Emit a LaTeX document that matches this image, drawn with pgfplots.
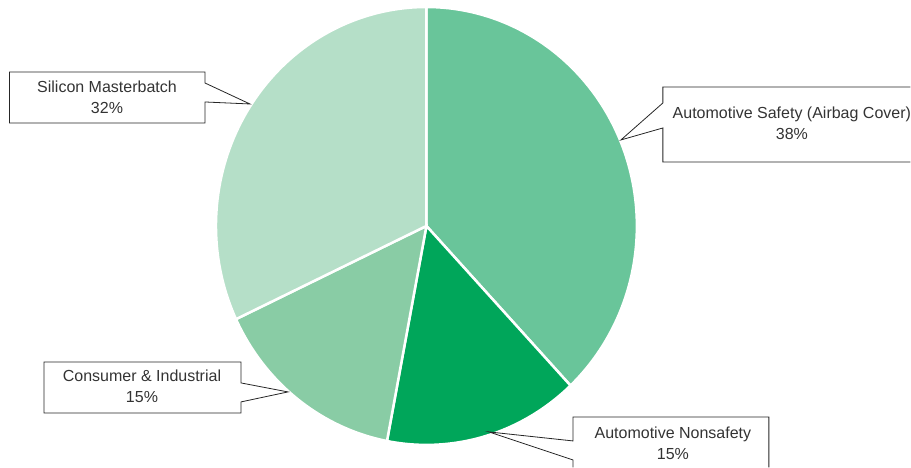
\documentclass[border=0pt]{standalone}
\usepackage{pgfplots}
\pgfplotsset{compat=1.18}
\usepackage{fontspec}
\setmainfont{Liberation Sans}
\definecolor{cSafety}{HTML}{69C59A}
\definecolor{cNon}{HTML}{00A65A}
\definecolor{cCons}{HTML}{89CCA5}
\definecolor{cSil}{HTML}{B5DFC8}
\definecolor{txt}{HTML}{333333}
\begin{document}
\begin{tikzpicture}
% shares (percent), clockwise from 12 o'clock
\def\vA{38}\def\vB{15}\def\vC{15}\def\vD{32}
\pgfmathsetmacro\aA{90}
\pgfmathsetmacro\aB{90-3.6*\vA}
\pgfmathsetmacro\aC{\aB-3.6*\vB}
\pgfmathsetmacro\aD{\aC-3.6*\vC}
\pgfmathsetmacro\aE{\aD-3.6*\vD}
\def\cx{426.5}\def\cy{242}\def\rx{210.5}\def\ry{219}
\begin{axis}[
  scale only axis, width=911pt, height=468pt,
  xmin=0, xmax=911, ymin=0, ymax=468,
  hide axis, clip=false,
]
\path (rel axis cs:0,0) rectangle (rel axis cs:1,1);
\addplot[fill=cSafety, draw=white, line width=2.5pt, domain=\aB:\aA, samples=90, variable=\t]
  ({\cx+\rx*cos(\t)},{\cy+\ry*sin(\t)}) -- (axis cs:\cx,\cy) -- cycle;
\addplot[fill=cNon, draw=white, line width=2.5pt, domain=\aC:\aB, samples=60, variable=\t]
  ({\cx+\rx*cos(\t)},{\cy+\ry*sin(\t)}) -- (axis cs:\cx,\cy) -- cycle;
\addplot[fill=cCons, draw=white, line width=2.5pt, domain=\aD:\aC, samples=60, variable=\t]
  ({\cx+\rx*cos(\t)},{\cy+\ry*sin(\t)}) -- (axis cs:\cx,\cy) -- cycle;
\addplot[fill=cSil, draw=white, line width=2.5pt, domain=\aE:\aD, samples=90, variable=\t]
  ({\cx+\rx*cos(\t)},{\cy+\ry*sin(\t)}) -- (axis cs:\cx,\cy) -- cycle;

% callout boxes (pixel coordinates, y flipped: 468 - y)
\begin{scope}[draw=black!85, line width=0.8pt]
% Silicon Masterbatch
\draw (axis cs:205,385) -- (axis cs:205,396) -- (axis cs:9.5,396) -- (axis cs:9.5,345) -- (axis cs:205,345) -- (axis cs:205,366) -- (axis cs:250,364) -- cycle;
% Automotive Safety
\draw (axis cs:910.5,381) -- (axis cs:663,381) -- (axis cs:663,365) -- (axis cs:621,328) -- (axis cs:663,340) -- (axis cs:663,306) -- (axis cs:910.5,306);
% Consumer & Industrial
\draw (axis cs:241,106) -- (axis cs:44,106) -- (axis cs:44,55) -- (axis cs:241,55) -- (axis cs:241,66) -- (axis cs:288,76) -- (axis cs:241,85) -- cycle;
% Automotive Nonsafety
\draw (axis cs:573,0.5) -- (axis cs:573,8) -- (axis cs:489,36) -- (axis cs:573,27) -- (axis cs:573,51) -- (axis cs:769,51) -- (axis cs:769,0.5);
\end{scope}
\begin{scope}[every node/.style={text=txt, font=\fontsize{16}{21}\selectfont, align=center, inner sep=0pt}]
\node at (axis cs:107,370.5) {Silicon Masterbatch\\32\%};
\node at (axis cs:792,344.5) {Automotive Safety (Airbag Cover)\\38\%};
\node at (axis cs:142,81.5) {Consumer \& Industrial\\15\%};
\node at (axis cs:673,25) {Automotive Nonsafety\\15\%};
\end{scope}
\end{axis}
\end{tikzpicture}
\end{document}
